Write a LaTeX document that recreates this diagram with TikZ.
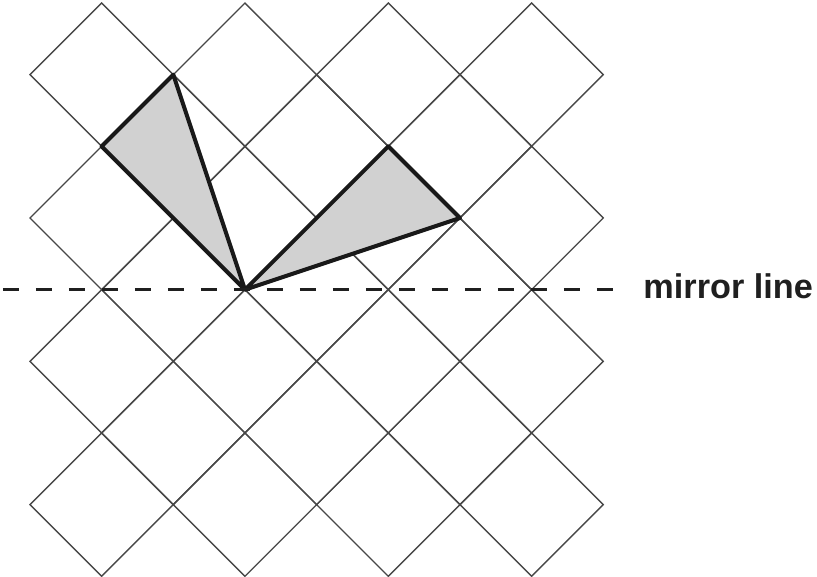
\documentclass[tikz,border=0pt]{standalone}
\usepackage{fontspec}
\setmainfont{Liberation Sans}
\begin{document}
\begin{tikzpicture}[x=1cm,y=-1cm,
  gridline/.style={draw=black!72, line width=0.55pt},
  tribox/.style={draw=black!90, fill=black!18, line width=1.6pt, line join=round},
  mirror/.style={draw=black!88, line width=1.3pt, dash pattern=on 6.4pt off 6.7pt},
  lbl/.style={anchor=base west, inner sep=0pt, font=\bfseries\fontsize{13.6}{15}\selectfont, text=black!88}]
\useasboundingbox (-0.4186,-0.0419) rectangle (10.9827,8.0102);
% diamonds centred at (i,j), i+j even
\foreach \i in {1,3,5,7}{\foreach \j in {1,3,5,7}{
  \draw[gridline] (\i-1,\j) -- (\i,\j-1) -- (\i+1,\j) -- (\i,\j+1) -- cycle;}}
\foreach \i in {2,4,6}{\foreach \j in {2,4,6}{
  \draw[gridline] (\i-1,\j) -- (\i,\j-1) -- (\i+1,\j) -- (\i,\j+1) -- cycle;}}
% shaded triangles
\coordinate (P) at (3,4);
\coordinate (A1) at (2,1);
\coordinate (A2) at (1,2);
\coordinate (B1) at (5,2);
\coordinate (B2) at (6,3);
\draw[tribox] (A1) -- (A2) -- (P) -- cycle;
\draw[tribox] (B1) -- (B2) -- (P) -- cycle;
% mirror line
\coordinate (m0) at (-0.377,4);
\coordinate (m1) at (8.21,4);
\draw[mirror] (m0) -- (m1);
\node[lbl] (ml) at (8.554,4.117) {mirror line};
\end{tikzpicture}
\end{document}
